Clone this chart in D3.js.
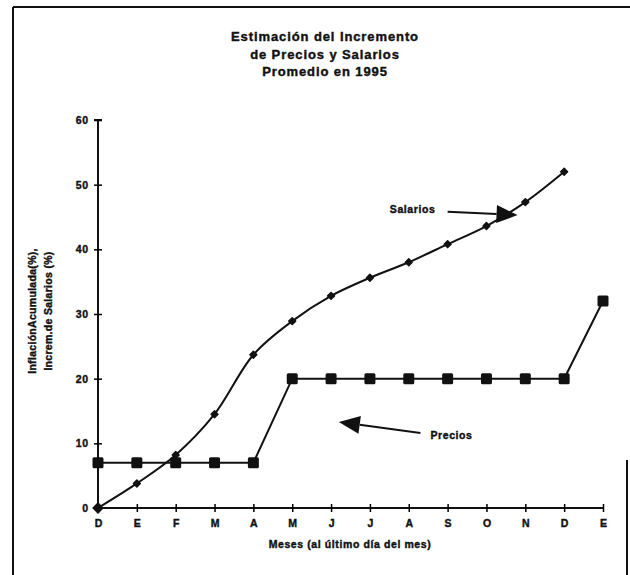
<!DOCTYPE html>
<html>
<head>
<meta charset="utf-8">
<script src="https://cdn.jsdelivr.net/npm/d3@7"></script>
<style>
  html, body { margin: 0; padding: 0; background: #fff; }
  svg { display: block; font-family: "Liberation Sans", Arial, sans-serif; font-weight: bold; }
  svg text { fill: #111; stroke: #111; stroke-width: 0.4px; }
</style>
</head>
<body>
<svg id="chart" width="630" height="575"></svg>
<script>
// Months (last day of each month), December 1994 through January 1996
const months = ["D", "E", "F", "M", "A", "M", "J", "J", "A", "S", "O", "N", "D", "E"];
// Accumulated inflation (%)
const precios = [7, 7, 7, 7, 7, 20, 20, 20, 20, 20, 20, 20, 20, 32];
// Accumulated wage increase (%)
const salarios = [0, 3.8, 8.2, 14.5, 23.7, 28.9, 32.8, 35.6, 38.0, 40.8, 43.6, 47.3, 52];
const yTicks = [0, 10, 20, 30, 40, 50, 60];
const titleLines = ["Estimación del Incremento", "de Precios y Salarios", "Promedio en 1995"];
const yLabelLines = ["InflaciónAcumulada(%),", "Increm.de Salarios (%)"];
const xLabel = "Meses (al último día del mes)";
// Callouts in data units: label point, arrow tail, arrow tip (month index, %)
const callouts = [
  { name: "Salarios", label: [8.1, 46.2], tail: [9.0, 45.8], tip: [10.8, 45.3] },
  { name: "Precios",  label: [9.1, 11.3], tail: [8.3, 11.6], tip: [6.2, 13.3] }
];

const svg = d3.select("#chart");
const font = "'Liberation Sans', Arial, sans-serif";

// frame around the chart
const frame = svg.append("g").attr("stroke", "#111").attr("stroke-width", 2).attr("fill", "none");
frame.append("line").attr("x1", 13).attr("y1", 7).attr("x2", 630).attr("y2", 7);
frame.append("line").attr("x1", 13).attr("y1", 7).attr("x2", 13).attr("y2", 575);
frame.append("line").attr("x1", 627).attr("y1", 460).attr("x2", 627).attr("y2", 575);

const x = d3.scalePoint().domain(d3.range(months.length)).range([98, 603]);
const y = d3.scaleLinear().domain([0, 60]).range([508, 120]);

// title
svg.append("g").selectAll("text").data(titleLines).join("text")
  .attr("x", 325).attr("y", (d, i) => 41 + i * 17.5)
  .attr("text-anchor", "middle").attr("font-size", 13).attr("letter-spacing", 0.9)
  .text(d => d);

// y axis, ticks crossing the line
const yAxis = svg.append("g").attr("transform", `translate(${x(0)},0)`)
  .call(d3.axisLeft(y).tickValues(yTicks).tickSize(4).tickPadding(5));
yAxis.select(".domain").attr("stroke", "#111").attr("stroke-width", 2)
  .attr("d", `M0,${y(0)}V${y(60)}M-4,${y(60)}H4`);
yAxis.selectAll(".tick line").attr("x1", 4).attr("x2", -4).attr("stroke-width", 1.5);
yAxis.selectAll(".tick text").attr("font-size", 10.5).attr("font-weight", "bold")
  .attr("font-family", font).attr("letter-spacing", 0.8);

// x axis
const xAxis = svg.append("g").attr("transform", `translate(0,${y(0)})`)
  .call(d3.axisBottom(x).tickFormat(i => months[i]).tickSize(4).tickPadding(8));
xAxis.select(".domain").attr("stroke", "#111").attr("stroke-width", 2)
  .attr("d", `M${x(0)},0H${x(months.length - 1)}`);
xAxis.selectAll(".tick line").attr("y1", -4).attr("y2", 4).attr("stroke-width", 1.5);
xAxis.selectAll(".tick text").attr("font-size", 10.5).attr("font-weight", "bold")
  .attr("font-family", font);

// axis titles
svg.append("text").attr("x", 350).attr("y", 548).attr("text-anchor", "middle")
  .attr("font-size", 10.5).attr("letter-spacing", 0.6).text(xLabel);
svg.append("g").selectAll("text").data(yLabelLines).join("text")
  .attr("transform", (d, i) => `translate(${36 + i * 16},311) rotate(-90)`)
  .attr("text-anchor", "middle").attr("font-size", 10.5).attr("letter-spacing", 0.3)
  .text(d => d);

// series lines
svg.append("path").datum(precios)
  .attr("fill", "none").attr("stroke", "#111").attr("stroke-width", 2)
  .attr("d", d3.line().x((d, i) => x(i)).y(d => y(d)));
svg.append("path").datum(salarios)
  .attr("fill", "none").attr("stroke", "#111").attr("stroke-width", 2)
  .attr("d", d3.line().x((d, i) => x(i)).y(d => y(d)).curve(d3.curveCatmullRom.alpha(0.5)));

// markers
svg.append("g").selectAll("path").data(precios).join("path")
  .attr("transform", (d, i) => `translate(${x(i)},${y(d)})`)
  .attr("d", d3.symbol(d3.symbolSquare, 64))
  .attr("fill", "#111").attr("stroke", "#111").attr("stroke-width", 3).attr("stroke-linejoin", "round");
svg.append("g").selectAll("path").data(salarios).join("path")
  .attr("transform", (d, i) => `translate(${x(i)},${y(d)})`)
  .attr("d", (d, i) => d3.symbol(d3.symbolDiamond2, i === 0 ? 60 : 30)())
  .attr("fill", "#111").attr("stroke", "#111").attr("stroke-width", 1.5).attr("stroke-linejoin", "round");

// callout arrows
const cg = svg.append("g");
callouts.forEach(c => {
  const px = p => [x.range()[0] + p[0] * x.step(), y(p[1])];
  const [lx, ly] = px(c.label), [tx, ty] = px(c.tail), [hx, hy] = px(c.tip);
  const ang = Math.atan2(hy - ty, hx - tx);
  const len = 21, half = 9;
  const bx = hx - len * Math.cos(ang), by = hy - len * Math.sin(ang);
  const nx = -Math.sin(ang), ny = Math.cos(ang);
  cg.append("line").attr("x1", tx).attr("y1", ty).attr("x2", bx).attr("y2", by)
    .attr("stroke", "#111").attr("stroke-width", 2);
  cg.append("path")
    .attr("d", `M${hx},${hy}L${bx + nx * half},${by + ny * half}L${bx - nx * half},${by - ny * half}Z`)
    .attr("fill", "#111");
  cg.append("text").attr("x", lx).attr("y", ly + 4).attr("text-anchor", "middle")
    .attr("font-size", 10.5).attr("letter-spacing", 0.6).text(c.name);
});
</script>
</body>
</html>
